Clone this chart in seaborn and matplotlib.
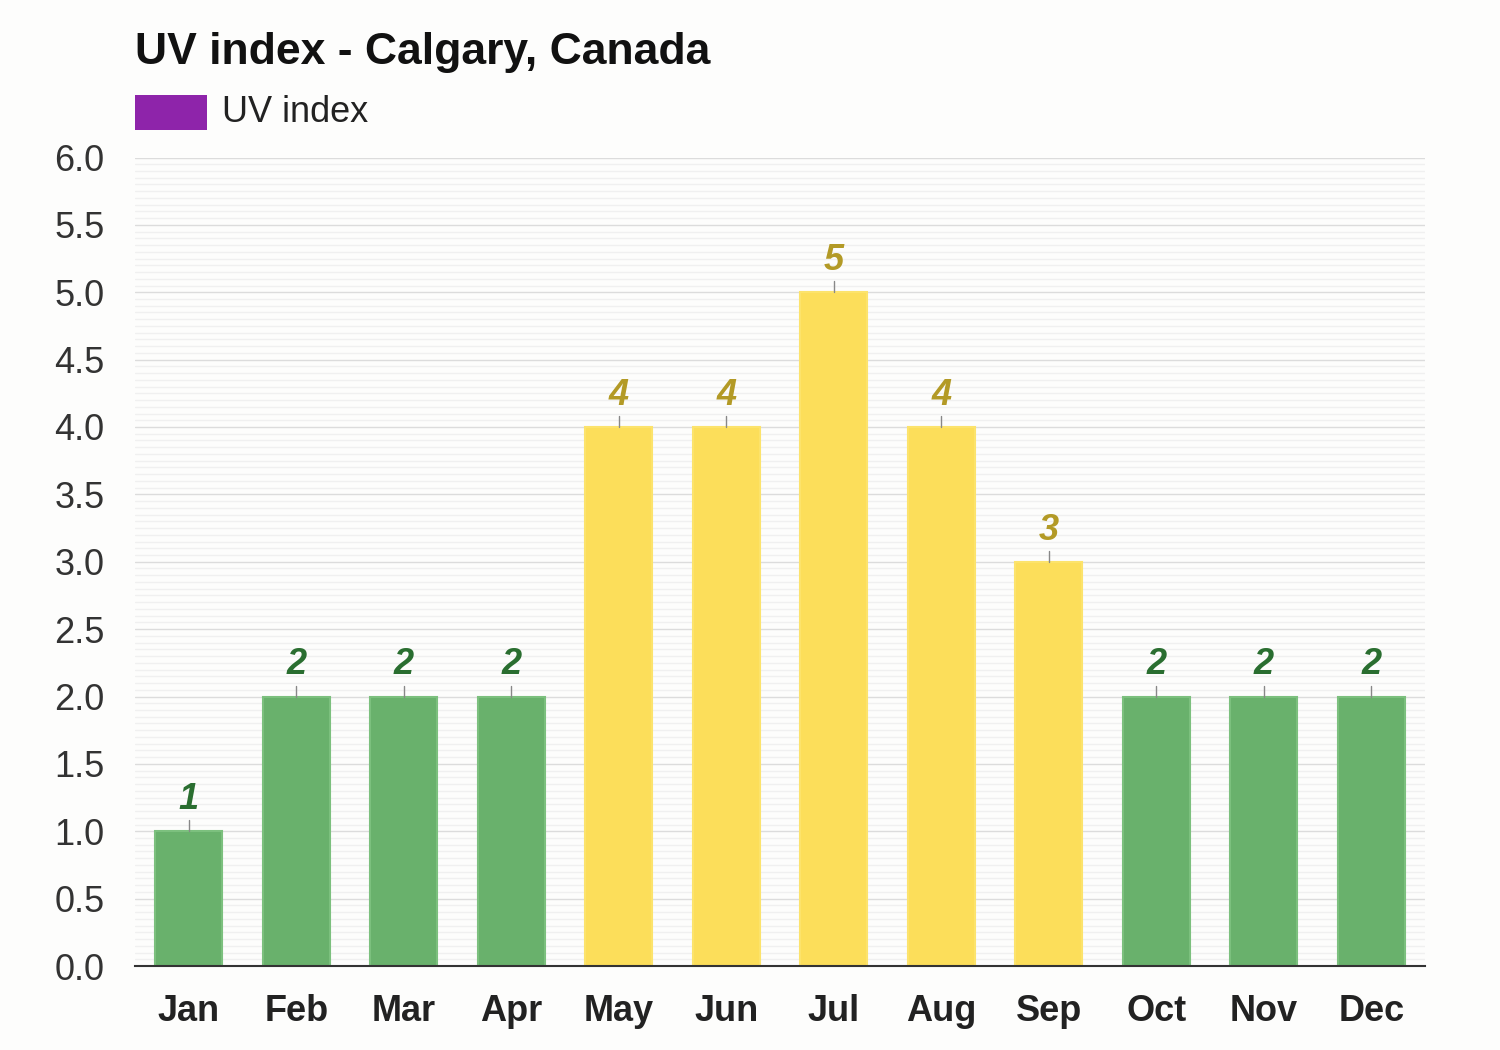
import matplotlib
matplotlib.use("Agg")
import matplotlib.pyplot as plt
import seaborn as sns
import pandas as pd
import numpy as np
from matplotlib.ticker import MultipleLocator

months = ["Jan", "Feb", "Mar", "Apr", "May", "Jun", "Jul", "Aug", "Sep", "Oct", "Nov", "Dec"]
uv_values = [1, 2, 2, 2, 4, 4, 5, 4, 3, 2, 2, 2]
levels = ["low" if v <= 2 else "moderate" for v in uv_values]

bar_colors = {"low": "#69b16c", "moderate": "#fcde5a"}
edge_colors = {"low": "#7cc07e", "moderate": "#fce36c"}
label_colors = {"low": "#2a6e30", "moderate": "#b39a26"}

df = pd.DataFrame({"month": months, "uv": uv_values, "level": levels})

sns.set_theme(style="white")
plt.rcParams["font.family"] = ["Liberation Sans", "DejaVu Sans"]

fig = plt.figure(figsize=(15, 10.5), dpi=100, facecolor="#fdfdfc")
ax = fig.add_axes([0.09, 0.08, 0.86, 0.77])
ax.set_facecolor("#fdfdfc")

sns.barplot(data=df, x="month", y="uv", hue="level", palette=bar_colors,
            width=0.62, dodge=False, legend=False, ax=ax, zorder=3,
            linewidth=1.5, saturation=1)
for patch in ax.patches:
    fc = patch.get_facecolor()
    key = "low" if fc[1] > fc[0] else "moderate"
    patch.set_edgecolor(edge_colors[key])

ax.set_xlim(-0.5, 11.5)
ax.set_ylim(0, 6.0)
ax.yaxis.set_major_locator(MultipleLocator(0.5))
ax.yaxis.set_minor_locator(MultipleLocator(0.05))
ax.grid(which="major", axis="y", color="#dcdcdc", linewidth=1.0, zorder=0)
ax.grid(which="minor", axis="y", color="#f0f0f0", linewidth=1.0, zorder=0)
ax.set_axisbelow(True)

for s in ["top", "right", "left"]:
    ax.spines[s].set_visible(False)
ax.spines["bottom"].set_color("#333333")
ax.spines["bottom"].set_linewidth(1.5)
ax.spines["bottom"].set_zorder(5)

ax.tick_params(axis="y", which="both", length=0, labelsize=26, labelcolor="#333333", pad=22)
ax.tick_params(axis="x", length=0, labelsize=26, pad=20)
ax.set_yticks(np.arange(0, 6.01, 0.5))
ax.set_yticklabels([f"{v:.1f}" for v in np.arange(0, 6.01, 0.5)])
for lbl in ax.get_xticklabels():
    lbl.set_fontweight("bold")
    lbl.set_color("#222222")
ax.set_xlabel("")
ax.set_ylabel("")

for i, (v, lev) in enumerate(zip(uv_values, levels)):
    ax.plot([i, i], [v, v + 0.08], color="#888888", linewidth=1, zorder=4)
    ax.text(i, v + 0.105, str(v), ha="center", va="bottom", fontsize=26,
            fontweight="bold", fontstyle="italic", color=label_colors[lev], zorder=4)

fig.text(0.09, 0.950, "UV index - Calgary, Canada", fontsize=32, fontweight="bold",
         color="#111111", ha="left", va="center")
fig.patches.append(plt.Rectangle((0.09, 0.876), 0.048, 0.034, transform=fig.transFigure,
                                 facecolor="#8e24aa", edgecolor="none"))
fig.text(0.148, 0.893, "UV index", fontsize=26, color="#222222", ha="left", va="center")

fig.savefig("out.png", dpi=100, facecolor=fig.get_facecolor())
